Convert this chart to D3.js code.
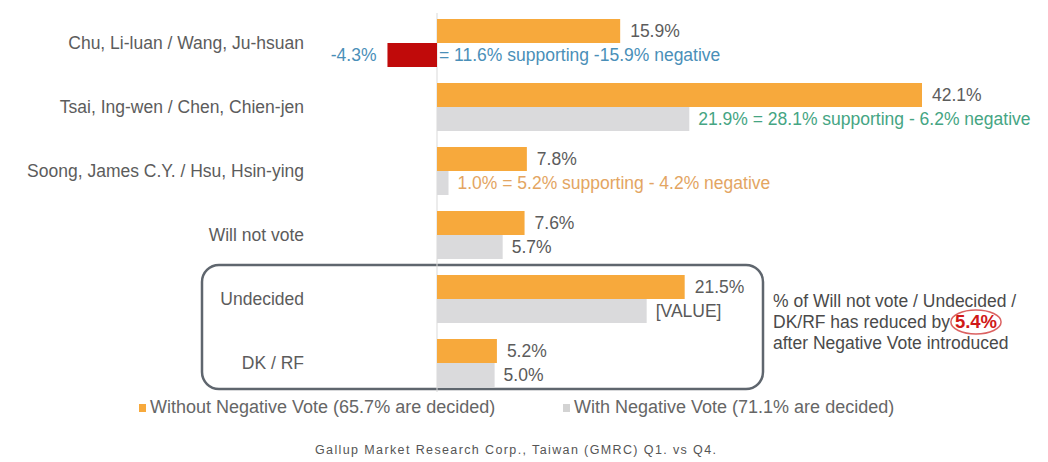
<html>
<head>
<meta charset="utf-8">
<title>Negative vote</title>
<style>
  body { margin: 0; background: #fff; }
  text { font-family: "Liberation Sans", Arial, sans-serif; }
</style>
</head>
<body>
<script src="https://d3js.org/d3.v7.min.js"></script>
<script>
// data
var categories = ["Chu, Li-luan / Wang, Ju-hsuan", "Tsai, Ing-wen / Chen, Chien-jen",
                  "Soong, James C.Y. / Hsu, Hsin-ying", "Will not vote", "Undecided", "DK / RF"];
var withoutNeg = [15.9, 42.1, 7.8, 7.6, 21.5, 5.2];
var withNeg    = [-4.3, 21.9, 1.0, 5.7, 18.2, 5.0];
var withoutLabels = ["15.9%", "42.1%", "7.8%", "7.6%", "21.5%", "5.2%"];
var withLabels = ["= 11.6% supporting -15.9% negative",
                  "21.9% = 28.1% supporting - 6.2% negative",
                  "1.0% = 5.2% supporting - 4.2% negative",
                  "5.7%", "[VALUE]", "5.0%"];
var withLabelColors = ["#4a8fb8", "#45a583", "#e3a562", "#595959", "#595959", "#595959"];
var legendNames = ["Without Negative Vote (65.7% are decided)", "With Negative Vote (71.1% are decided)"];
var boxed = ["Undecided", "DK / RF"];

var W = 1048, H = 462;
var orange = "#f7a93c", grey = "#dadadc", red = "#c00a0a", textGrey = "#5c5c5c";

var svg = d3.select("body").append("svg")
    .attr("width", W).attr("height", H);

var x = d3.scaleLinear().domain([0, 42.1]).range([437, 922]);
var y = d3.scaleBand().domain(categories).range([11, 395])
    .paddingInner(0.25).paddingOuter(0.125);
var ySub = d3.scaleBand().domain(["without", "with"]).range([0, y.bandwidth()]);

var rows = categories.map(function(c, i){
    return {cat: c, a: withoutNeg[i], b: withNeg[i], la: withoutLabels[i],
            lb: withLabels[i], lbc: withLabelColors[i]};
});

// rounded box round the undecided rows
var boxTop = y(boxed[0]) - 10,
    boxBot = y(boxed[1]) + y.bandwidth() + 2;
svg.append("rect")
    .attr("x", 202).attr("y", boxTop)
    .attr("width", 561).attr("height", boxBot - boxTop)
    .attr("rx", 17).attr("ry", 17)
    .attr("fill", "none").attr("stroke", "#5f666e").attr("stroke-width", 2.5);

// zero line
svg.append("line")
    .attr("x1", x(0)).attr("x2", x(0))
    .attr("y1", 13).attr("y2", 392)
    .attr("stroke", "#d9d9d9").attr("stroke-width", 1);

var g = svg.selectAll(".row").data(rows).enter().append("g")
    .attr("class", "row")
    .attr("transform", function(d){ return "translate(0," + y(d.cat) + ")"; });

g.append("rect")
    .attr("x", x(0)).attr("y", ySub("without"))
    .attr("width", function(d){ return x(d.a) - x(0); })
    .attr("height", ySub.bandwidth())
    .attr("fill", orange);

g.append("rect")
    .attr("x", function(d){ return Math.min(x(0), x(d.b)); })
    .attr("y", ySub("with"))
    .attr("width", function(d){ return Math.abs(x(d.b) - x(0)); })
    .attr("height", ySub.bandwidth())
    .attr("fill", function(d){ return d.b < 0 ? red : grey; });

g.append("text")
    .attr("x", function(d){ return x(d.a) + 10; })
    .attr("y", ySub("without") + ySub.bandwidth() / 2)
    .attr("dy", "0.35em")
    .attr("font-size", 17.5).attr("fill", textGrey)
    .text(function(d){ return d.la; });

g.append("text")
    .attr("x", function(d){ return d.b < 0 ? x(0) + 2 : x(d.b) + 9; })
    .attr("y", ySub("with") + ySub.bandwidth() / 2)
    .attr("dy", "0.35em")
    .attr("font-size", 17.5)
    .attr("fill", function(d){ return d.lbc; })
    .text(function(d){ return d.lb; });

// value of the negative bar, left of it (plain hyphen as in the original)
g.filter(function(d){ return d.b < 0; }).append("text")
    .attr("x", function(d){ return x(d.b) - 11; })
    .attr("y", ySub("with") + ySub.bandwidth() / 2)
    .attr("dy", "0.35em")
    .attr("text-anchor", "end")
    .attr("font-size", 17.5).attr("fill", "#4a8fb8")
    .text(function(d){ return d.b.toFixed(1) + "%"; });

// category labels
g.append("text")
    .attr("x", 304)
    .attr("y", y.bandwidth() / 2)
    .attr("dy", "0.35em")
    .attr("text-anchor", "end")
    .attr("font-size", 17.5).attr("fill", textGrey)
    .text(function(d){ return d.cat; });

// annotation
var note = svg.append("text")
    .attr("x", 773).attr("font-size", 17.5).attr("fill", "#4a4a4a");
note.append("tspan").attr("x", 773).attr("y", 307).text("% of Will not vote / Undecided /");
var l2 = note.append("tspan").attr("x", 773).attr("y", 328);
l2.append("tspan").text("DK/RF has reduced by ");
var hot = l2.append("tspan").attr("font-weight", "bold").attr("font-size", 18.5)
    .attr("fill", "#d01818").text("5.4%");
note.append("tspan").attr("x", 773).attr("y", 349).text("after Negative Vote introduced");

// ellipse round the 5.4%
var hx = hot.node().getStartPositionOfChar(0).x,
    hw = hot.node().getComputedTextLength();
svg.append("ellipse")
    .attr("cx", hx + hw / 2).attr("cy", 322).attr("rx", hw / 2 + 4).attr("ry", 12)
    .attr("fill", "none").attr("stroke", "#d23a3a").attr("stroke-width", 1.5)
    .attr("opacity", 0.8);

// legend
var legendX = [139, 563], legendCol = [orange, "#d3d3d3"];
var lg = svg.selectAll(".lg").data(legendNames).enter().append("g")
    .attr("class", "lg")
    .attr("transform", function(d, i){ return "translate(" + legendX[i] + ",407)"; });
lg.append("rect").attr("x", 0).attr("y", -3).attr("width", 7).attr("height", 8)
    .attr("fill", function(d, i){ return legendCol[i]; });
lg.append("text").attr("x", 11).attr("dy", "0.35em")
    .attr("font-size", 18).attr("fill", "#666")
    .text(function(d){ return d; });

// source
svg.append("text")
    .attr("x", 315).attr("y", 454)
    .attr("font-size", 12.5).attr("fill", "#555")
    .attr("textLength", 401).attr("lengthAdjust", "spacing")
    .text("Gallup Market Research Corp., Taiwan (GMRC) Q1. vs Q4.");
</script>
</body>
</html>
